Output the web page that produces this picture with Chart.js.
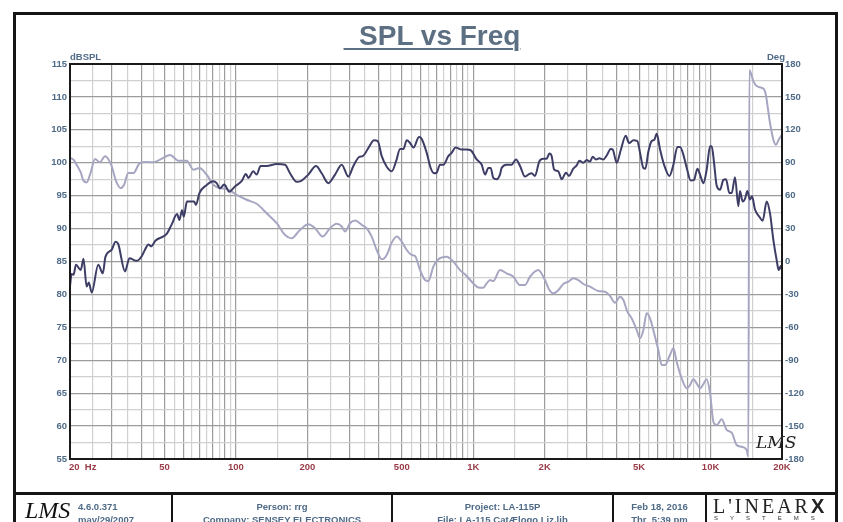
<!DOCTYPE html>
<html>
<head>
<meta charset="utf-8">
<script src="https://cdn.jsdelivr.net/npm/chart.js@4.4.1/dist/chart.umd.min.js"></script>
<style>
body { margin: 0; background: #fff; width: 843px; height: 522px; overflow: hidden; position: relative; font-family: "Liberation Sans", Arial, sans-serif; }
canvas { position: absolute; left: 0; top: 0; }
.bar { position: absolute; background: #151515; }
.t { position: absolute; white-space: pre; font-weight: bold; color: #4f6b88; font-size: 9.5px; line-height: 11px; z-index: 2; }
.c { text-align: center; }
</style>
</head>
<body>
<!-- outer frame and footer boxes -->
<div class="bar" style="left:13px;top:12px;width:825px;height:3px"></div>
<div class="bar" style="left:13px;top:12px;width:3px;height:510px"></div>
<div class="bar" style="left:835px;top:12px;width:3px;height:510px"></div>
<div class="bar" style="left:13px;top:492px;width:825px;height:3px"></div>
<div class="bar" style="left:171px;top:495px;width:2px;height:27px"></div>
<div class="bar" style="left:391px;top:495px;width:2px;height:27px"></div>
<div class="bar" style="left:612px;top:495px;width:2px;height:27px"></div>
<div class="bar" style="left:705px;top:495px;width:2px;height:27px"></div>

<canvas id="c" width="843" height="522"></canvas>

<div class="t" style="left:300px;top:20px;width:264px;text-align:center;font-size:28px;line-height:32px;color:#5d6f82;text-decoration:underline;text-decoration-thickness:2px;text-underline-offset:3px">  SPL vs Freq</div>
<div class="t" style="left:70px;top:51px">dBSPL</div>
<div class="t" style="left:767px;top:51px">Deg</div>
<div class="t" style="left:69px;top:461px;color:#9a3b48">20  Hz</div>
<div class="t" style="left:756px;top:433px;font:italic 17px 'DejaVu Serif';color:#222;line-height:18px">LMS</div>

<!-- footer -->
<div class="t" style="left:25px;top:497px;font:italic 24px 'Liberation Serif';color:#111;line-height:26px">LMS</div>
<div class="t" style="left:78px;top:501px">4.6.0.371</div>
<div class="t" style="left:78px;top:514px">may/29/2007</div>
<div class="t c" style="left:173px;top:501px;width:218px">Person: rrg</div>
<div class="t c" style="left:173px;top:514px;width:218px">Company: SENSEY ELECTRONICS</div>
<div class="t c" style="left:393px;top:501px;width:219px">Project: LA-115P</div>
<div class="t c" style="left:393px;top:514px;width:219px">File: LA-115 CatÆlogo Liz.lib</div>
<div class="t c" style="left:614px;top:501px;width:91px">Feb 18, 2016</div>
<div class="t c" style="left:614px;top:514px;width:91px">Thr  5:39 pm</div>
<div class="t" style="left:713px;top:495px;font:20px 'Liberation Serif';color:#222;letter-spacing:3px;line-height:22px">L'INEAR<span style="font:bold 20px 'Liberation Sans';letter-spacing:0">X</span></div>
<div class="t" style="left:714px;top:515px;font:6px 'Liberation Sans';color:#333;letter-spacing:12px;line-height:7px">SYSTEMS</div>

<script>
// SPL magnitude (dB)
const splFreq = [20, 20.3, 20.7, 21.2, 22.2, 22.8, 23.5, 24.0, 24.7, 26.3, 27.5, 28.2, 30.0, 31.1, 31.9, 34.1, 35.6, 38.2, 40.1, 41.4,
  42.8, 43.9, 45.9, 51.1, 53.6, 56.5, 57.8, 59.3, 60.3, 62.2, 66.6, 67.9, 70.2, 74.6, 80.3, 83.0, 85.7, 89.3, 93.8, 99.1,
  105.7, 110.3, 112.8, 118.4, 122.3, 127.1, 134.8, 148.6, 161.1, 169.1, 180.3, 189.3, 201.9, 217.6, 229.9, 245.3, 261.7, 279.2, 297.8, 312.6,
  331.4, 342.2, 365.1, 382.1, 395.9, 411.6, 432.1, 453.5, 473.0, 491.7, 507.9, 524.6, 541.8, 559.7, 591.3, 606.8, 636.9, 661.9, 683.6, 701.5,
  724.5, 748.3, 785.4, 811.2, 843.4, 893.9, 938.2, 975.4, 1034, 1086, 1121, 1158, 1184, 1215, 1255, 1296, 1317, 1383, 1452, 1515,
  1575, 1652, 1706, 1763, 1821, 1898, 1975, 2039, 2093, 2141, 2190, 2284, 2359, 2460, 2532, 2641, 2728, 2800, 2911, 3007,
  3106, 3187, 3292, 3400, 3535, 3651, 3796, 3870, 4024, 4183, 4391, 4535, 4730, 4917, 5046, 5211, 5314, 5471, 5650, 5799,
  5931, 6127, 6369, 6708, 6972, 7250, 7439, 7684, 7937, 8251, 8522, 8802, 9032, 9329, 9636, 9953, 10113, 10344, 10614, 10964,
  11323, 11619, 12001, 12275, 12679, 13093, 13306, 13656, 13968, 14287, 14663, 14950, 15390, 16053, 16580, 17237, 17803, 18389, 18993, 19367,
  19744, 20000];
const splDb = [81.2, 83.1, 83.0, 84.5, 83.7, 85.4, 81.2, 81.8, 80.3, 84.5, 83.2, 85.7, 86.8, 88.0, 87.7, 83.5, 85.5, 85.1, 85.8, 86.8,
  87.6, 87.3, 88.2, 89.2, 90.6, 92.2, 91.3, 92.8, 91.8, 94.1, 94.1, 93.6, 95.4, 96.5, 97.2, 96.9, 96.1, 96.7, 95.6, 96.4,
  97.2, 98.3, 97.7, 98.7, 98.2, 99.5, 99.5, 99.8, 99.7, 98.4, 97.1, 97.3, 98.2, 99.5, 98.4, 96.9, 98.2, 99.7, 97.9, 99.5,
  100.9, 101.0, 102.5, 103.4, 103.3, 101.0, 99.4, 98.7, 100.2, 102.1, 102.1, 103.4, 103.0, 102.3, 103.9, 103.6, 101.5, 99.2, 98.4, 98.5,
  99.7, 99.7, 101.0, 101.5, 102.3, 102.0, 102.0, 101.9, 100.5, 99.7, 98.2, 99.2, 99.2, 97.7, 97.5, 98.2, 99.2, 99.7, 99.7, 100.5,
  99.5, 97.9, 98.2, 98.4, 98.0, 100.2, 100.6, 100.6, 101.4, 101.0, 99.0, 98.7, 97.5, 98.5, 98.0, 99.1, 99.6, 100.3, 100.0, 100.4,
  100.2, 100.9, 100.5, 100.7, 100.5, 101.1, 102.1, 102.0, 100.0, 101.9, 104.1, 103.0, 103.4, 103.3, 101.5, 99.2, 99.1, 101.7, 103.3, 103.5,
  104.4, 102.0, 99.7, 98.0, 99.7, 102.4, 102.4, 101.2, 99.2, 97.3, 97.4, 99.1, 98.2, 96.9, 99.0, 102.5, 102.5, 100.0, 96.5, 95.9,
  97.4, 97.5, 95.4, 95.4, 97.8, 93.4, 95.7, 94.1, 94.5, 95.7, 94.4, 94.9, 92.9, 91.8, 91.2, 94.1, 92.3, 88.3, 85.2, 83.7,
  84.3, 83.7];

// phase (degrees)
const phaseFreq = [20, 20.7, 21.3, 22.2, 22.7, 23.5, 24.4, 25.5, 26.7, 28.1, 29.8, 31.3, 32.7, 33.8, 35.2, 37.0, 39.4, 42.1, 44.9, 47.9,
  52.8, 57.2, 62.0, 66.2, 70.2, 75.3, 80.3, 85.7, 92.0, 100.7, 111.0, 122.3, 134.8, 148.6, 161.1, 171.8, 186.2, 201.9, 215.5, 232.1,
  249.2, 265.9, 279.2, 288.3, 302.6, 317.7, 338.9, 355.7, 373.4, 392.0, 411.6, 432.1, 453.5, 476.1, 499.7, 524.6, 550.8, 568.9, 597.0, 626.7,
  647.1, 679.2, 713.0, 773.0, 824.6, 879.6, 938.2, 1001, 1051, 1103, 1139, 1177, 1215, 1296, 1383, 1476, 1575, 1652, 1734, 1880,
  2006, 2093, 2175, 2284, 2397, 2516, 2641, 2773, 2911, 3106, 3367, 3592, 3771, 3958, 4155, 4291, 4461, 4653, 4884, 5046,
  5211, 5381, 5557, 5833, 6025, 6223, 6427, 6747, 6972, 7198, 7555, 7937, 8194, 8463, 8741, 9032, 9329, 9636, 9953, 10278,
  10614, 11142, 11697, 12275, 12885, 13520, 14195, 14427, 14569, 15146, 15642, 16423, 16956, 17803, 18389, 18871, 19367, 20000];
const phaseDeg = [94.4, 92.8, 88.3, 81.2, 74.5, 72.1, 80.6, 93.4, 90.4, 95.9, 88.3, 73.0, 66.9, 70.0, 80.6, 80.6, 89.8, 90.7, 90.4, 92.8,
  97.1, 91.9, 91.9, 83.7, 85.2, 79.1, 70.0, 66.9, 66.0, 60.8, 56.3, 52.6, 44.0, 34.9, 24.2, 21.2, 28.8, 34.0, 30.3, 22.7,
  30.3, 34.3, 31.9, 27.3, 34.9, 37.4, 33.4, 30.3, 22.7, 10.5, 2.0, 6.0, 17.2, 22.7, 18.1, 10.5, 6.0, 5.0, -7.8, -16.9,
  -17.8, -4.7, 2.0, 4.4, -0.1, -7.8, -13.2, -20.0, -23.6, -23.9, -20.0, -16.9, -17.8, -7.8, -10.8, -13.9, -21.5, -21.5, -13.9, -7.8,
  -16.9, -26.0, -29.0, -26.0, -20.5, -18.4, -15.3, -16.9, -20.5, -22.9, -26.9, -27.5, -31.4, -37.5, -32.1, -35.1, -45.7, -51.8, -62.4, -70.0,
  -62.4, -47.2, -51.8, -68.5, -80.7, -94.3, -94.3, -85.2, -79.1, -91.3, -106.5, -115.6, -112.6, -107.4, -111.0, -115.6, -111.7, -107.4, -120.2, -146.0,
  -149.0, -143.8, -153.5, -156.0, -167.2, -168.8, -171.8, -178.0, 174.5, 164.4, 159.9, 158.3, 155.3, 126.3, 111.0, 106.4, 111.0, 115.6];

// axes
const freqGrid = [20, 25, 30, 35, 40, 45, 50, 55, 60, 65, 70, 75, 80, 85, 90, 95,
  100, 150, 200, 250, 300, 350, 400, 450, 500, 550, 600, 650, 700, 750, 800, 850, 900, 950,
  1000, 1500, 2000, 2500, 3000, 3500, 4000, 4500, 5000, 5500, 6000, 6500, 7000, 7500, 8000, 8500, 9000, 9500,
  10000, 15000, 20000];
const freqLabelValues = [50, 100, 200, 500, 1000, 2000, 5000, 10000, 20000];
const freqLabels = ['50', '100', '200', '500', '1K', '2K', '5K', '10K', '20K'];
const dbTicks = [55, 57.5, 60, 62.5, 65, 67.5, 70, 72.5, 75, 77.5, 80, 82.5, 85, 87.5, 90, 92.5, 95, 97.5, 100, 102.5, 105, 107.5, 110, 112.5, 115];
const degTicks = [-180, -150, -120, -90, -60, -30, 0, 30, 60, 90, 120, 150, 180];

const tickFont = { family: 'Liberation Sans', size: 9.5, weight: 'bold' };
const isWhole = v => {
  const m = v / Math.pow(10, Math.floor(Math.log10(v) + 1e-9));
  return Math.abs(m - Math.round(m)) < 1e-6;
};

const plotFrame = {
  id: 'plotFrame',
  afterDatasetsDraw(chart) {
    const a = chart.chartArea, ctx = chart.ctx;
    ctx.save();
    ctx.strokeStyle = '#1a1a1a';
    ctx.lineWidth = 2;
    ctx.strokeRect(a.left, a.top, a.right - a.left, a.bottom - a.top);
    ctx.restore();
  }
};

new Chart(document.getElementById('c'), {
  type: 'line',
  data: {
    datasets: [{
      label: 'SPL',
      data: splFreq.map((f, i) => ({ x: f, y: splDb[i] })),
      borderColor: '#3d3d66',
      borderWidth: 2,
      pointRadius: 0,
      cubicInterpolationMode: 'monotone',
      yAxisID: 'y',
    }, {
      label: 'Phase',
      data: phaseFreq.map((f, i) => ({ x: f, y: phaseDeg[i] })),
      borderColor: '#a6a6c2',
      borderWidth: 2,
      pointRadius: 0,
      cubicInterpolationMode: 'monotone',
      yAxisID: 'y2',
    }]
  },
  options: {
    responsive: false,
    animation: false,
    events: [],
    layout: { padding: { top: 64, left: 0, right: 0, bottom: 0 }, autoPadding: false },
    plugins: { legend: { display: false }, tooltip: { enabled: false } },
    scales: {
      x: {
        type: 'logarithmic',
        min: 20,
        max: 20000,
        afterBuildTicks: s => { s.ticks = freqGrid.map(v => ({ value: v })); },
        afterFit: s => { s.height = 63; },
        grid: {
          color: c => isWhole(c.tick.value) ? '#9c9c9c' : '#d0d0d0',
          lineWidth: 1.2,
          drawTicks: false,
        },
        border: { color: '#1a1a1a', width: 2 },
        ticks: {
          autoSkip: false,
          maxRotation: 0,
          padding: 3,
          color: '#9a3b48',
          font: tickFont,
          callback: v => {
            const i = freqLabelValues.indexOf(v);
            return i < 0 ? '' : freqLabels[i];
          }
        }
      },
      y: {
        position: 'left',
        min: 55,
        max: 115,
        afterBuildTicks: s => { s.ticks = dbTicks.map(v => ({ value: v })); },
        afterFit: s => { s.width = 70; },
        grid: {
          color: c => c.tick.value % 5 === 0 ? '#9c9c9c' : '#d0d0d0',
          lineWidth: 1.2,
          drawTicks: false,
        },
        border: { color: '#1a1a1a', width: 2 },
        ticks: {
          padding: 3,
          color: '#4f6b88',
          font: tickFont,
          callback: v => v % 5 === 0 ? String(v) : ''
        }
      },
      y2: {
        position: 'right',
        min: -180,
        max: 180,
        afterBuildTicks: s => { s.ticks = degTicks.map(v => ({ value: v })); },
        afterFit: s => { s.width = 61; },
        grid: { display: false, drawTicks: false },
        border: { color: '#1a1a1a', width: 2 },
        ticks: { padding: 3, color: '#4f6b88', font: tickFont }
      }
    }
  },
  plugins: [plotFrame]
});
</script>
</body>
</html>
